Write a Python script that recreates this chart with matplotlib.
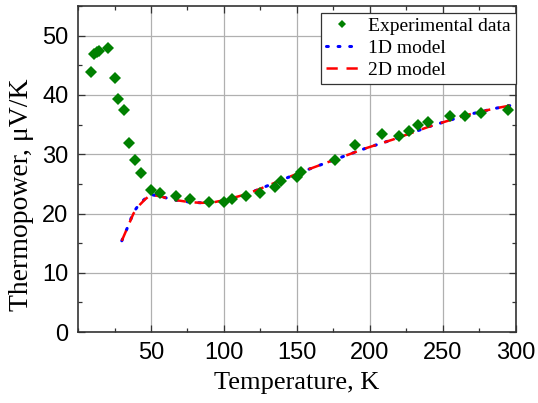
import numpy as np
import matplotlib
matplotlib.use('Agg')
import matplotlib.pyplot as plt
from matplotlib.ticker import MultipleLocator

# ── data ─────────────────────────────────────────────────────
exp_T = [9.1, 11.2, 12.8, 14.4, 20.3, 25.3, 27.2, 31.3, 34.7, 38.8, 42.9,
         50.0, 56.0, 67.1, 77.0, 89.9, 100.0, 105.2, 115.0, 124.8, 134.9,
         138.9, 149.9, 152.7, 176.0, 189.9, 208.0, 219.9, 226.9, 233.1,
         239.9, 254.8, 265.1, 275.8, 294.7]
exp_S = [43.8, 46.9, 47.2, 47.4, 47.9, 42.9, 39.3, 37.5, 31.9, 29.0, 26.9,
         23.9, 23.5, 22.9, 22.4, 21.9, 21.9, 22.5, 23.0, 23.4, 24.4,
         25.5, 26.1, 27.0, 29.0, 31.5, 33.4, 33.0, 34.0, 35.0,
         35.5, 36.5, 36.5, 37.0, 37.4]

model_T = [30, 34, 38, 42, 46, 50, 56, 66, 77, 85, 93, 101, 113, 122, 130,
           140, 154, 176, 197, 216, 241, 266, 285, 300]
model_1d = [15.4, 17.7, 20.2, 21.6, 22.5, 23.2, 22.9, 22.3, 21.9, 21.8, 21.9,
            22.3, 23.1, 23.9, 24.7, 25.7, 27.1, 29.1, 31.0, 32.5, 34.7, 36.6,
            37.7, 38.4]
model_2d = [15.4, 17.7, 20.0, 21.4, 22.4, 23.2, 22.9, 22.3, 21.9, 21.8, 21.9,
            22.3, 23.1, 23.9, 24.7, 25.7, 27.1, 29.1, 31.0, 32.5, 34.7, 36.6,
            37.7, 38.4]

SERIF = ['Liberation Serif', 'DejaVu Serif']
SANS = ['Liberation Sans', 'DejaVu Sans']

fig = plt.figure(figsize=(5.38, 4.03), dpi=100, facecolor='white')
ax = fig.add_axes([0.145, 0.176, 0.814, 0.809])

ax.plot(model_T, model_1d, ls=(0, (0.6, 3.2)), color='#0000ff', lw=2.2,
        dash_capstyle='round', label='1D model', zorder=3)
ax.plot(model_T, model_2d, ls=(0, (4.5, 3.5)), color='#ff0000', lw=1.8,
        label='2D model', zorder=4)
ax.plot(exp_T, exp_S, 'D', color='#008000', ms=6, mew=0,
        label='Experimental data', zorder=5)

ax.set_xlim(0, 300)
ax.set_ylim(0, 55)
ax.xaxis.set_major_locator(MultipleLocator(50))
ax.xaxis.set_minor_locator(MultipleLocator(25))
ax.yaxis.set_major_locator(MultipleLocator(10))
ax.yaxis.set_minor_locator(MultipleLocator(5))
ax.set_xticks([50, 100, 150, 200, 250, 300])

ax.grid(True, which='major', color='#b0b0b0', lw=0.9)
ax.set_axisbelow(True)
ax.tick_params(which='both', direction='in', top=True, right=True,
               colors='#333333', labelcolor='black')
ax.tick_params(which='major', length=5, width=0.9, labelsize=17, pad=7)
ax.tick_params(which='minor', length=3, width=0.9)
for lab in ax.get_xticklabels() + ax.get_yticklabels():
    lab.set_family(SANS)
for sp in ax.spines.values():
    sp.set_color('#333333')
    sp.set_linewidth(1.2)

ax.set_xlabel('Temperature, K', family=SERIF, fontsize=19, labelpad=6)
ax.set_ylabel('Thermopower, μV/K', family=SERIF, fontsize=20)
ax.yaxis.set_label_coords(-0.10, 0.42)

handles, labels = ax.get_legend_handles_labels()
order = [2, 0, 1]
leg = ax.legend([handles[i] for i in order], [labels[i] for i in order],
                loc='upper right', bbox_to_anchor=(1.0, 0.98),
                borderaxespad=0, prop={'family': SERIF, 'size': 14},
                fancybox=False, framealpha=1, edgecolor='#333333',
                handlelength=1.65, handletextpad=0.55, borderpad=0.25,
                labelspacing=0.22, markerscale=0.75)
leg.get_frame().set_linewidth(0.9)

fig.savefig('out.png', dpi=100, facecolor='white')
